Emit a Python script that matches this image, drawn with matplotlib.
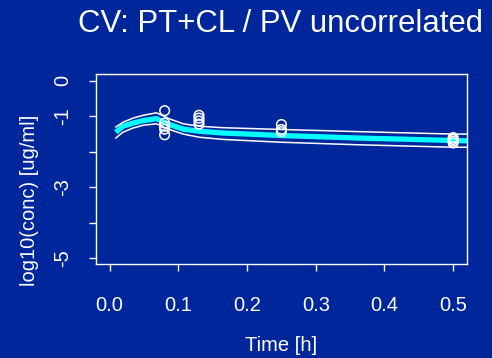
import numpy as np
import matplotlib
matplotlib.use('Agg')
import matplotlib.pyplot as plt

plt.rcParams['font.family'] = ['Liberation Sans', 'DejaVu Sans']

bg = '#00269c'

# observed concentrations (log10 ug/ml) at each sampling time
obs_time = [0.08, 0.08, 0.08, 0.08, 0.08,
            0.13, 0.13, 0.13, 0.13,
            0.25, 0.25, 0.25,
            0.5, 0.5, 0.5, 0.5]
obs_conc = [-0.84, -1.19, -1.28, -1.36, -1.52,
            -0.97, -1.05, -1.13, -1.22,
            -1.23, -1.37, -1.43,
            -1.60, -1.65, -1.70, -1.75]

# predicted median and interval bounds
pred_time = [0.009, 0.019, 0.034, 0.049, 0.068, 0.087, 0.107, 0.131, 0.165,
             0.25, 0.36, 0.5, 0.521]
pred_mid = [-1.45, -1.28, -1.19, -1.12, -1.065, -1.23, -1.36, -1.42, -1.47,
            -1.54, -1.61, -1.68, -1.69]
pred_hi = [-1.30, -1.17, -1.05, -0.97, -0.90, -1.07, -1.21, -1.28, -1.32,
           -1.37, -1.43, -1.50, -1.50]
pred_lo = [-1.61, -1.45, -1.33, -1.25, -1.21, -1.37, -1.50, -1.59, -1.65,
           -1.73, -1.80, -1.87, -1.87]

x_ticks = [0.0, 0.1, 0.2, 0.3, 0.4, 0.5]
y_ticks = [0, -1, -2, -3, -4, -5]
y_labels = ['0', '-1', '', '-3', '', '-5']

fig = plt.figure(figsize=(4.92, 3.58), dpi=100, facecolor=bg)
ax = fig.add_axes([0.195, 0.2626, 0.754, 0.5304], facecolor=bg)

ax.plot(pred_time, pred_mid, color='#00ffff', lw=3.8, solid_capstyle='butt', zorder=2)
ax.plot(pred_time, pred_hi, color='white', lw=1.1, zorder=3)
ax.plot(pred_time, pred_lo, color='white', lw=1.1, zorder=3)
ax.scatter(obs_time, obs_conc, s=48, facecolors='none', edgecolors='white',
           linewidths=1.1, zorder=4)

ax.set_xlim(-0.02, 0.52)
ax.set_ylim(-5.16, 0.19)
ax.set_xticks(x_ticks)
ax.set_xticklabels(['%.1f' % t for t in x_ticks])
ax.set_yticks(y_ticks)
ax.set_yticklabels(y_labels, rotation=90, va='center')

for s in ax.spines.values():
    s.set_color('white')
    s.set_linewidth(1.0)
ax.tick_params(colors='white', labelsize=14.5, length=5, width=1, direction='out')
ax.tick_params(axis='x', pad=18)
ax.tick_params(axis='y', pad=12)

ax.set_xlabel('Time [h]', color='white', fontsize=14.5, labelpad=15)
fig.text(0.059, 0.44, 'log10(conc) [ug/ml]', color='white', fontsize=14.5,
         rotation=90, ha='center', va='center')
fig.text(0.982, 0.911, 'CV: PT+CL / PV uncorrelated', color='white',
         fontsize=22.4, ha='right', va='baseline')

fig.savefig('out.png', dpi=100, facecolor=bg)
